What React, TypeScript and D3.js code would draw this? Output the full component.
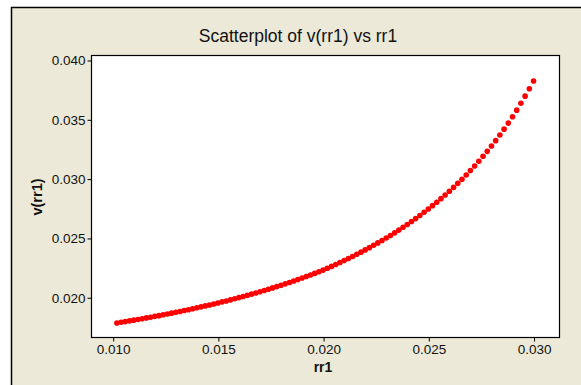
import { useRef, useEffect } from 'react'
import { select, scaleLinear, axisBottom, axisLeft, format } from 'd3'

const width = 581
const height = 385
const plot = { left: 91, right: 559, top: 55, bottom: 337 }

// rr1 values (x)
const rr1 = [
  0.0102, 0.0104, 0.0106, 0.0108, 0.0110, 0.0112, 0.0114, 0.0116, 0.0118, 0.0120,
  0.0122, 0.0124, 0.0126, 0.0128, 0.0130, 0.0132, 0.0134, 0.0136, 0.0138, 0.0140,
  0.0142, 0.0144, 0.0146, 0.0148, 0.0150, 0.0152, 0.0154, 0.0156, 0.0158, 0.0160,
  0.0162, 0.0164, 0.0166, 0.0168, 0.0170, 0.0172, 0.0174, 0.0176, 0.0178, 0.0180,
  0.0182, 0.0184, 0.0186, 0.0188, 0.0190, 0.0192, 0.0194, 0.0196, 0.0198, 0.0200,
  0.0202, 0.0204, 0.0206, 0.0208, 0.0210, 0.0212, 0.0214, 0.0216, 0.0218, 0.0220,
  0.0222, 0.0224, 0.0226, 0.0228, 0.0230, 0.0232, 0.0234, 0.0236, 0.0238, 0.0240,
  0.0242, 0.0244, 0.0246, 0.0248, 0.0250, 0.0252, 0.0254, 0.0256, 0.0258, 0.0260,
  0.0262, 0.0264, 0.0266, 0.0268, 0.0270, 0.0272, 0.0274, 0.0276, 0.0278, 0.0280,
  0.0282, 0.0284, 0.0286, 0.0288, 0.0290, 0.0292, 0.0294, 0.0296, 0.0298, 0.0300,
]

// v(rr1) values (y)
const vrr1 = [
  0.01783, 0.01789, 0.01795, 0.01801, 0.01807, 0.01813, 0.01819, 0.01826, 0.01832, 0.01839,
  0.01845, 0.01852, 0.01859, 0.01866, 0.01873, 0.01880, 0.01888, 0.01895, 0.01903, 0.01911,
  0.01919, 0.01927, 0.01935, 0.01943, 0.01952, 0.01961, 0.01969, 0.01978, 0.01988, 0.01997,
  0.02006, 0.02016, 0.02026, 0.02036, 0.02047, 0.02057, 0.02068, 0.02079, 0.02090, 0.02101,
  0.02113, 0.02125, 0.02137, 0.02149, 0.02162, 0.02175, 0.02188, 0.02201, 0.02215, 0.02229,
  0.02245, 0.02260, 0.02276, 0.02293, 0.02309, 0.02327, 0.02344, 0.02362, 0.02380, 0.02399,
  0.02418, 0.02438, 0.02458, 0.02478, 0.02500, 0.02521, 0.02543, 0.02566, 0.02590, 0.02613,
  0.02638, 0.02663, 0.02689, 0.02716, 0.02744, 0.02772, 0.02801, 0.02831, 0.02862, 0.02894,
  0.02926, 0.02960, 0.02995, 0.03031, 0.03068, 0.03107, 0.03147, 0.03188, 0.03230, 0.03275,
  0.03320, 0.03368, 0.03417, 0.03468, 0.03522, 0.03577, 0.03635, 0.03695, 0.03758, 0.03823,
]

const xTicks = [0.010, 0.015, 0.020, 0.025, 0.030]
const yTicks = [0.020, 0.025, 0.030, 0.035, 0.040]

const title = 'Scatterplot of v(rr1) vs rr1'
const xLabel = 'rr1'
const yLabel = 'v(rr1)'

const font = '"Liberation Sans", Arial, sans-serif'

const App = () => {
  const svgRef = useRef<SVGSVGElement>(null)

  useEffect(() => {
    const svg = select(svgRef.current)
    svg.selectAll('*').remove()

    const x = scaleLinear().domain([0.00897, 0.03121]).range([plot.left, plot.right])
    const y = scaleLinear().domain([0.01665, 0.04042]).range([plot.bottom, plot.top])

    // background + frame
    svg.append('rect').attr('width', width).attr('height', height).attr('fill', '#fff')
    svg.append('rect').attr('x', 11).attr('y', 7).attr('width', width - 11).attr('height', height - 7)
      .attr('fill', '#ECE9D8')
    svg.append('path').attr('d', `M11.5,${height} V7.5 H${width}`)
      .attr('fill', 'none').attr('stroke', '#000').attr('stroke-width', 1.5)

    // plot area
    svg.append('rect')
      .attr('x', plot.left + 0.5).attr('y', plot.top + 0.5)
      .attr('width', plot.right - plot.left).attr('height', plot.bottom - plot.top)
      .attr('fill', '#fff').attr('stroke', '#000').attr('stroke-width', 1.2)

    const fmt = format('.3f')

    const gx = svg.append('g')
      .attr('transform', `translate(0.5,${plot.bottom + 0.5})`)
      .call(axisBottom(x).tickValues(xTicks).tickFormat(d => fmt(d as number)).tickSizeOuter(0).tickSize(4).tickPadding(3))
    gx.select('.domain').remove()

    const gy = svg.append('g')
      .attr('transform', `translate(${plot.left + 0.5},0.5)`)
      .call(axisLeft(y).tickValues(yTicks).tickFormat(d => fmt(d as number)).tickSizeOuter(0).tickSize(4).tickPadding(2))
    gy.select('.domain').remove()

    svg.selectAll('.tick line').attr('stroke', '#000')
    svg.selectAll('.tick text')
      .attr('fill', '#111')
      .style('font-family', font)
      .style('font-size', '13.5px')

    // points
    svg.append('g')
      .selectAll('circle')
      .data(rr1)
      .join('circle')
      .attr('cx', d => x(d))
      .attr('cy', (d, i) => y(vrr1[i]))
      .attr('r', 2.8)
      .attr('fill', '#f00')

    // text
    svg.append('text')
      .attr('x', 298).attr('y', 42)
      .attr('text-anchor', 'middle')
      .style('font-family', font).style('font-size', '17.5px')
      .attr('fill', '#111')
      .text(title)

    svg.append('text')
      .attr('x', 323).attr('y', 372)
      .attr('text-anchor', 'middle')
      .style('font-family', font).style('font-size', '14px').style('font-weight', 'bold')
      .attr('fill', '#111')
      .text(xLabel)

    svg.append('text')
      .attr('transform', 'translate(42,197) rotate(-90)')
      .attr('text-anchor', 'middle')
      .style('font-family', font).style('font-size', '14.5px').style('font-weight', 'bold')
      .attr('fill', '#111')
      .text(yLabel)
  }, [])

  return (
    <svg ref={svgRef} width={width} height={height}
      style={{ position: 'absolute', left: 0, top: 0, display: 'block' }} />
  )
}

export default App
